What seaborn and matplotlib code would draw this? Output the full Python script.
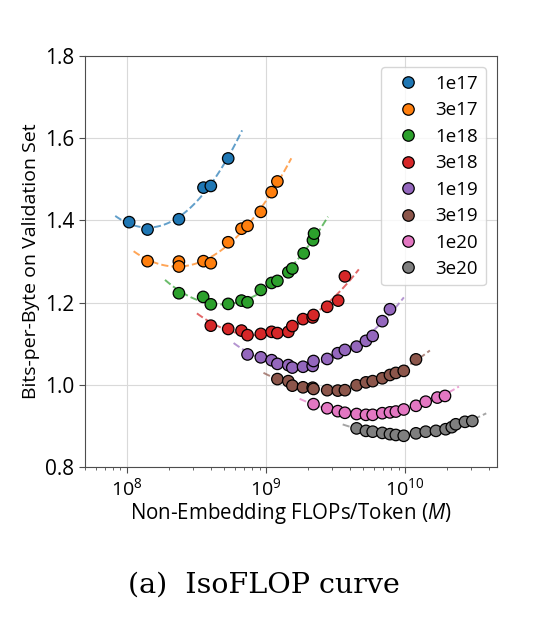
import numpy as np
import pandas as pd
import seaborn as sns
import matplotlib
matplotlib.use("Agg")
from matplotlib import pyplot as plt

# compute budgets (legend labels)
budgets = ["1e17", "3e17", "1e18", "3e18", "1e19", "3e19", "1e20", "3e20"]

# non-embedding FLOPs/token (M) and bits-per-byte
x_1e17 = [1.04e8, 1.41e8, 2.37e8, 3.56e8, 4.02e8, 5.36e8]
y_1e17 = [1.396, 1.378, 1.403, 1.480, 1.484, 1.551]

x_3e17 = [1.41e8, 2.37e8, 2.37e8, 3.56e8, 4.02e8, 5.36e8, 6.68e8, 7.38e8, 9.2e8, 1.10e9, 1.21e9]
y_3e17 = [1.301, 1.300, 1.288, 1.301, 1.296, 1.347, 1.380, 1.387, 1.421, 1.469, 1.495]

x_1e18 = [2.37e8, 3.54e8, 4.02e8, 5.36e8, 6.68e8, 7.38e8, 9.2e8, 1.10e9, 1.21e9, 1.45e9, 1.55e9,
          1.87e9, 2.18e9, 2.22e9]
y_1e18 = [1.223, 1.214, 1.196, 1.197, 1.205, 1.201, 1.231, 1.248, 1.253, 1.274, 1.283,
          1.320, 1.352, 1.368]

x_3e18 = [4.02e8, 5.36e8, 6.68e8, 7.38e8, 9.2e8, 1.10e9, 1.21e9, 1.45e9, 1.55e9, 1.85e9, 2.17e9,
          2.2e9, 2.76e9, 3.31e9, 3.70e9]
y_3e18 = [1.144, 1.136, 1.132, 1.121, 1.124, 1.129, 1.126, 1.129, 1.143, 1.160, 1.164,
          1.170, 1.190, 1.205, 1.264]

x_1e19 = [7.38e8, 9.2e8, 1.10e9, 1.21e9, 1.45e9, 1.55e9, 1.85e9, 2.17e9, 2.2e9, 2.76e9, 3.29e9,
          3.7e9, 4.49e9, 5.24e9, 5.86e9, 6.87e9, 7.8e9]
y_1e19 = [1.074, 1.067, 1.060, 1.051, 1.048, 1.042, 1.044, 1.046, 1.058, 1.063, 1.077,
          1.085, 1.093, 1.107, 1.119, 1.155, 1.184]

x_3e19 = [1.21e9, 1.45e9, 1.55e9, 1.85e9, 2.17e9, 2.2e9, 2.76e9, 3.29e9, 3.7e9, 4.49e9, 5.24e9,
          5.86e9, 6.87e9, 7.8e9, 8.6e9, 9.8e9, 1.2e10]
y_3e19 = [1.014, 1.009, 0.998, 0.994, 0.993, 0.990, 0.987, 0.986, 0.987, 0.999, 1.006,
          1.009, 1.016, 1.024, 1.029, 1.034, 1.062]

x_1e20 = [2.2e9, 2.76e9, 3.29e9, 3.7e9, 4.49e9, 5.24e9, 5.86e9, 6.87e9, 7.8e9, 8.6e9, 9.8e9,
          1.2e10, 1.41e10, 1.71e10, 1.94e10]
y_1e20 = [0.953, 0.943, 0.936, 0.932, 0.929, 0.927, 0.927, 0.931, 0.933, 0.935, 0.940,
          0.949, 0.959, 0.969, 0.973]

x_3e20 = [4.49e9, 5.24e9, 5.86e9, 6.87e9, 7.8e9, 8.6e9, 9.8e9, 1.2e10, 1.41e10, 1.67e10, 1.96e10,
          2.17e10, 2.32e10, 2.7e10, 3.05e10]
y_3e20 = [0.894, 0.888, 0.886, 0.883, 0.880, 0.878, 0.876, 0.882, 0.886, 0.888, 0.892,
          0.897, 0.904, 0.910, 0.912]

xs = [x_1e17, x_3e17, x_1e18, x_3e18, x_1e19, x_3e19, x_1e20, x_3e20]
ys = [y_1e17, y_3e17, y_1e18, y_3e18, y_1e19, y_3e19, y_1e20, y_3e20]

df = pd.concat([pd.DataFrame({"M": x, "bpb": y, "budget": b}) for x, y, b in zip(xs, ys, budgets)],
               ignore_index=True)

sns.set_style("whitegrid", {"axes.edgecolor": "0.3", "xtick.bottom": True, "ytick.left": True,
                            "grid.color": "0.85", "text.color": "black",
                            "axes.labelcolor": "black"})
plt.rcParams["font.family"] = ["Open Sans", "DejaVu Sans"]
plt.rcParams["mathtext.fontset"] = "custom"
plt.rcParams["mathtext.rm"] = "Open Sans"
plt.rcParams["mathtext.it"] = "Open Sans:italic"

palette = sns.color_palette("tab10", len(budgets))

fig = plt.figure(figsize=(5.34, 6.38), dpi=100)
ax = fig.add_axes([0.159, 0.268, 0.772, 0.644])

# quadratic fit (in log M) for each budget, drawn a little past the data
for x, y, c in zip(xs, ys, palette):
    lx = np.log10(x)
    coef = np.polyfit(lx, y, 2)
    grid = np.linspace(lx.min() - 0.1, lx.max() + 0.1, 100)
    ax.plot(10 ** grid, np.polyval(coef, grid), "--", color=c, alpha=0.7, lw=1.4, zorder=2)

sns.scatterplot(data=df, x="M", y="bpb", hue="budget", palette=palette, s=68,
                edgecolor="black", linewidth=0.9, ax=ax, zorder=3)

ax.set_xscale("log")
ax.set_xlim(5e7, 4.6e10)
ax.set_ylim(0.8, 1.8)
ax.set_yticks([0.8, 1.0, 1.2, 1.4, 1.6, 1.8])
ax.tick_params(axis="y", labelsize=15, length=4, color="0.3", labelcolor="black")
ax.tick_params(axis="x", labelsize=14, length=4, color="0.3", labelcolor="black")
ax.tick_params(which="minor", length=2.5, color="0.3")
ax.set_xlabel("Non-Embedding FLOPs/Token ($\\mathit{M}$)", fontsize=14.8, labelpad=1)
ax.set_ylabel("Bits-per-Byte on Validation Set", fontsize=14)

ax.legend(loc="upper right", fontsize=13.5, title=None, labelspacing=0.45, handletextpad=0.5,
          borderaxespad=0.6)

fig.text(0.494, 0.083, "(a)  IsoFLOP curve", ha="center", va="center",
         fontsize=20.5, family="DejaVu Serif", color="black")

fig.savefig("out.png", dpi=100)
